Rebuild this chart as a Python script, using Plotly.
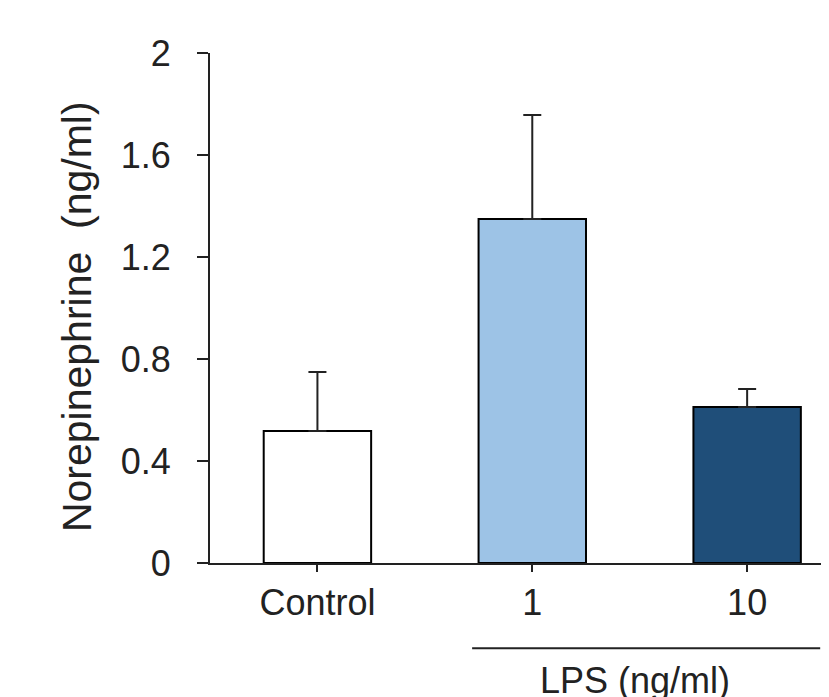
import plotly.graph_objects as go

categories = ["Control", "1", "10"]
means = [0.518, 1.349, 0.612]
errors = [0.231, 0.408, 0.070]
colors = ["#FFFFFF", "#9DC3E6", "#1F4E79"]
y_ticks = [0, 0.4, 0.8, 1.2, 1.6, 2]
y_tick_labels = ["0", "0.4", "0.8", "1.2", "1.6", "2"]

xpos = list(range(len(categories)))

fig = go.Figure()
fig.add_trace(go.Bar(
    x=xpos, y=means, width=0.5,
    marker=dict(color=colors, line=dict(color="black", width=2)),
    error_y=dict(type="data", symmetric=False, array=errors,
                 arrayminus=[0] * len(errors), color="#222222",
                 thickness=2, width=9),
    showlegend=False,
))

fig.add_shape(type="line", xref="x", yref="paper",
              x0=0.72, x1=2.34, y0=-0.167, y1=-0.167,
              line=dict(color="#222222", width=2))
fig.add_annotation(text="LPS (ng/ml)", xref="x", yref="paper",
                   x=1.479, y=-0.186, yanchor="top", showarrow=False,
                   font=dict(size=36, color="#222222"))
fig.add_annotation(text="Norepinephrine  (ng/ml)", xref="paper", yref="paper",
                   x=-0.215, y=0.484, xanchor="center", yanchor="middle",
                   textangle=-90, showarrow=False,
                   font=dict(size=41, color="#222222"))

fig.update_layout(
    width=821, height=689,
    margin=dict(l=202, r=0, t=45, b=134, autoexpand=False),
    plot_bgcolor="white", paper_bgcolor="white",
    font=dict(family="Liberation Sans, Arial, sans-serif", size=36, color="#222222"),
    xaxis=dict(range=[-0.5, 2.381], tickvals=xpos, ticktext=categories,
               showline=True, linecolor="#222222", linewidth=2,
               ticks="outside", ticklen=7, tickwidth=2, tickcolor="#222222",
               showgrid=False, zeroline=False),
    yaxis=dict(range=[0, 2], tickvals=y_ticks, ticktext=y_tick_labels,
               showline=True, linecolor="#222222", linewidth=2,
               ticks="outside", ticklen=11, tickwidth=2, tickcolor="#222222",
               ticklabelstandoff=19,
               showgrid=False, zeroline=False),
)

fig.write_html("out.html")
